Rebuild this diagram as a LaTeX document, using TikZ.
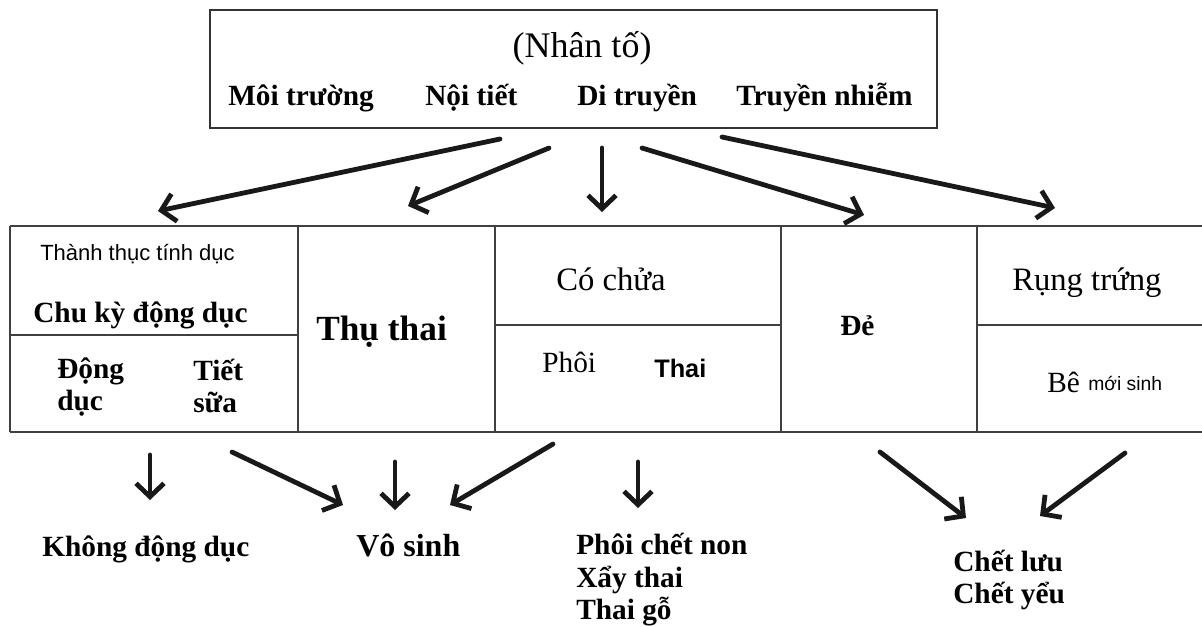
\documentclass[tikz,border=0pt]{standalone}
\usepackage{fontspec}
\setmainfont{Liberation Serif}
\newfontfamily\arialf{Liberation Sans}
\usetikzlibrary{arrows.meta}
\begin{document}
\begin{tikzpicture}[x=0.75pt,y=-0.75pt,
  arr/.style={line width=3.6pt, draw=black!90, line cap=round, -{Straight Barb[length=10pt,width=21pt]}},
  tl/.style={draw=black!75, line width=1.1pt},
  sb/.style={anchor=base west, inner sep=0pt, font=\fontsize{22}{26}\selectfont\bfseries},
  sr/.style={anchor=base west, inner sep=0pt, font=\fontsize{22}{26}\selectfont},
  ss/.style={anchor=base west, inner sep=0pt, font=\arialf\fontsize{16}{19}\selectfont}]
\path[use as bounding box, fill=white] (0,0) rectangle (1202,626);
% top box
\node[draw=black!80, line width=1.5pt, minimum width=545.25pt, minimum height=88.5pt, inner sep=0pt] (top) at (573.5,69) {};
\node[anchor=base, inner sep=0pt, font=\fontsize{27}{32}\selectfont] (nhanto) at (582,57) {(Nhân tố)};
\node[sb] (moitruong) at (228,105) {Môi trường};
\node[sb] (noitiet) at (425,105) {Nội tiết};
\node[sb] (ditruyen) at (577,105) {Di truyền};
\node[sb] (truyennhiem) at (736,105) {Truyền nhiễm};
% table
\draw[tl] (10,226) -- (1202,226);
\draw[tl] (10,432) -- (1202,432);
\foreach \xx in {10,298,495,781,977} \draw[tl] (\xx,226) -- (\xx,432);
\draw[tl] (10,335) -- (298,335);
\draw[tl] (495,325) -- (781,325);
\draw[tl] (977,325) -- (1202,325);
% table texts
\node[ss, font=\arialf\fontsize{16.5}{19}\selectfont] (thanhthuc) at (40,260) {Thành thục tính dục};
\node[sb] (chuky) at (33,322) {Chu kỳ động dục};
\node[sb] (dong) at (57,378) {Động};
\node[sb] (duc) at (57,410) {dục};
\node[sb] (tiet) at (193,380) {Tiết};
\node[sb] (sua) at (193,412) {sữa};
\node[sb, font=\fontsize{26.5}{30}\selectfont\bfseries] (thuthai) at (316,340) {Thụ thai};
\node[sr, font=\fontsize{24.5}{28}\selectfont] (cochua) at (556,290) {Có chửa};
\node[sr] (phoi) at (542,372) {Phôi};
\node[ss, font=\arialf\bfseries\fontsize{19}{22}\selectfont] (thai) at (654,377) {Thai};
\node[sb] (de) at (840,335) {Đẻ};
\node[sr, font=\fontsize{24.5}{28}\selectfont] (rungtrung) at (1012,290) {Rụng trứng};
\node[sr] (be) at (1047,392) {Bê};
\node[ss, font=\arialf\fontsize{14.5}{17}\selectfont] (moisinh) at (1088,390) {mới sinh};
% bottom texts
\node[sb] (khongdong) at (42,556) {Không động dục};
\node[sb, font=\fontsize{24}{28}\selectfont\bfseries] (vosinh) at (356,556) {Vô sinh};
\node[sb] (phoichet) at (576,554) {Phôi chết non};
\node[sb] (xaythai) at (576,587) {Xẩy thai};
\node[sb] (thaigo) at (576,619) {Thai gỗ};
\node[sb] (chetluu) at (953,571) {Chết lưu};
\node[sb] (chetyeu) at (953,603) {Chết yểu};
% arrow coordinates
\coordinate (a1s) at (500,139); \coordinate (a1e) at (158,211);
\coordinate (a2s) at (549,148); \coordinate (a2e) at (408,206);
\coordinate (a3s) at (602,148); \coordinate (a3e) at (602,212);
\coordinate (a4s) at (642,148); \coordinate (a4e) at (864,215);
\coordinate (a5s) at (722,137); \coordinate (a5e) at (1055,208);
\coordinate (b1s) at (150,455); \coordinate (b1e) at (150,500);
\coordinate (b2s) at (232,452); \coordinate (b2e) at (343,505);
\coordinate (b3s) at (395,462); \coordinate (b3e) at (395,510);
\coordinate (b4s) at (553,444); \coordinate (b4e) at (450,505);
\coordinate (b5s) at (638,462); \coordinate (b5e) at (638,508);
\coordinate (b6s) at (880,452); \coordinate (b6e) at (966,518);
\coordinate (b7s) at (1125,453); \coordinate (b7e) at (1040,516);
\foreach \a in {a1,a2,a3,a4,a5,b1,b2,b3,b4,b5,b6,b7} \draw[arr] (\a s) -- (\a e);
\end{tikzpicture}
\end{document}
